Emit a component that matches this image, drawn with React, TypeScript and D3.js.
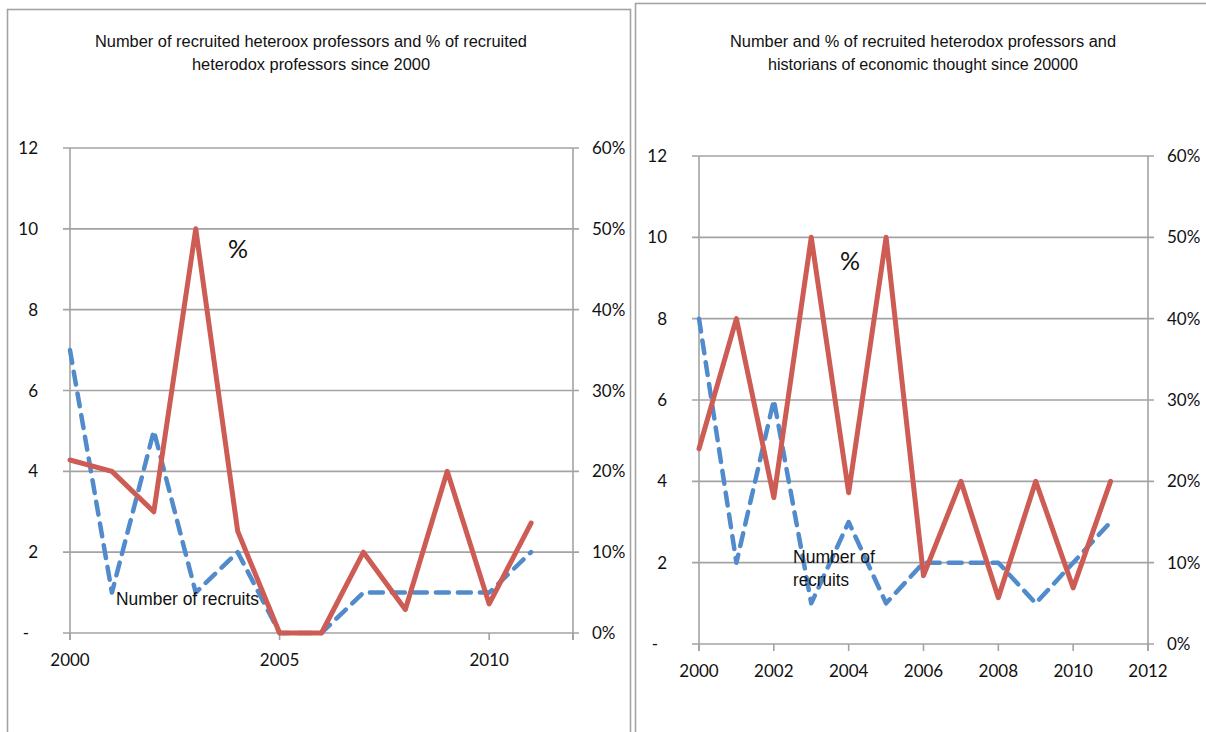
import React from "react";
import * as d3 from "d3";

// ---------- data ----------
const years = [2000, 2001, 2002, 2003, 2004, 2005, 2006, 2007, 2008, 2009, 2010, 2011];

const leftRecruits = [7, 1, 5, 1, 2, 0, 0, 1, 1, 1, 1, 2];
const leftPercent = [0.214, 0.2, 0.15, 0.5, 0.126, 0, 0, 0.1, 0.029, 0.2, 0.036, 0.136];

const rightRecruits = [8, 2, 6, 1, 3, 1, 2, 2, 2, 1, 2, 3];
const rightPercent = [0.24, 0.4, 0.18, 0.5, 0.186, 0.5, 0.084, 0.2, 0.057, 0.2, 0.069, 0.2];

const countTicks = [0, 2, 4, 6, 8, 10, 12];
const pctTicks = [0, 0.1, 0.2, 0.3, 0.4, 0.5, 0.6];
const leftYearTicks = [2000, 2005, 2010];
const rightYearTicks = [2000, 2002, 2004, 2006, 2008, 2010, 2012];

const leftTitle = [
  "Number of recruited heteroox professors and % of recruited",
  "heterodox professors since 2000",
];
const rightTitle = [
  "Number and % of recruited heterodox professors and",
  "historians of economic thought since 20000",
];

// ---------- styles ----------
const GRID = "#a3a3a3";
const RED = "#cd5c55";
const BLUE = "#518bcc";
const TICK_FONT = "Lato, 'Open Sans', sans-serif";
const NARROW = "'Liberation Sans Narrow', 'Liberation Sans', Arial, sans-serif";

type PanelProps = {
  frame: { x: number; y: number; w: number; h: number };
  x0: number;
  x1: number;
  yTop: number;
  yBottom: number;
  counts: number[];
  pcts: number[];
  yearTicks: number[];
  tickMarks: number[];
  title: string[];
  titleCx: number;
  titleLens: number[];
  pctLabel: { x: number; y: number };
  recruitLabel: { x: number; y: number; lines: string[]; lens: number[] };
};

function Panel(p: PanelProps) {
  const x = d3.scaleLinear().domain([2000, 2012]).range([p.x0, p.x1]);
  const y = d3.scaleLinear().domain([0, 12]).range([p.yBottom, p.yTop]);
  const y2 = d3.scaleLinear().domain([0, 0.6]).range([p.yBottom, p.yTop]);

  const countLine = d3
    .line<number>()
    .x((_, i) => x(years[i]))
    .y((d) => y(d));
  const pctLine = d3
    .line<number>()
    .x((_, i) => x(years[i]))
    .y((d) => y2(d));

  const fmtPct = d3.format(".0%");

  return (
    <g>
      <rect
        x={p.frame.x}
        y={p.frame.y}
        width={p.frame.w}
        height={p.frame.h}
        fill="#fff"
        stroke={GRID}
        strokeWidth={1.6}
      />
      {p.title.map((t, i) => (
        <text
          key={i}
          x={p.titleCx}
          y={47 + i * 23}
          textAnchor="middle"
          fontFamily={NARROW}
          fontSize={16}
          fill="#111"
          textLength={p.titleLens[i]}
          lengthAdjust="spacingAndGlyphs"
        >
          {t}
        </text>
      ))}

      {/* gridlines */}
      {countTicks.map((t) => (
        <line
          key={"g" + t}
          x1={p.x0 - 7}
          x2={p.x1 + 6}
          y1={y(t)}
          y2={y(t)}
          stroke={GRID}
          strokeWidth={1.6}
        />
      ))}
      {/* axes */}
      <line x1={p.x0} x2={p.x0} y1={p.yTop} y2={p.yBottom + 7} stroke={GRID} strokeWidth={1.6} />
      <line x1={p.x1} x2={p.x1} y1={p.yTop} y2={p.yBottom + 7} stroke={GRID} strokeWidth={1.6} />
      {p.tickMarks.map((t) => (
        <line
          key={"xt" + t}
          x1={x(t)}
          x2={x(t)}
          y1={p.yBottom}
          y2={p.yBottom + 7}
          stroke={GRID}
          strokeWidth={1.6}
        />
      ))}

      {/* left axis labels */}
      {countTicks.map((t) => (
        <text
          key={"yl" + t}
          x={t === 0 ? p.x0 - 41 : p.x0 - 32}
          y={y(t) + 6}
          textAnchor="end"
          fontFamily={TICK_FONT}
          fontSize={17}
          fill="#111"
        >
          {t === 0 ? "-" : String(t)}
        </text>
      ))}
      {/* right axis labels */}
      {pctTicks.map((t) => (
        <text
          key={"yr" + t}
          x={p.x1 + 19}
          y={y2(t) + 6}
          textAnchor="start"
          fontFamily={TICK_FONT}
          fontSize={17}
          fill="#111"
        >
          {fmtPct(t)}
        </text>
      ))}
      {/* x labels */}
      {p.yearTicks.map((t) => (
        <text
          key={"xl" + t}
          x={x(t)}
          y={p.yBottom + 33}
          textAnchor="middle"
          fontFamily={TICK_FONT}
          fontSize={17}
          fill="#111"
        >
          {t}
        </text>
      ))}

      {/* series */}
      <path
        d={countLine(p.counts) || ""}
        fill="none"
        stroke={BLUE}
        strokeWidth={4.5}
        strokeDasharray="13 9"
        strokeLinecap="round"
        strokeLinejoin="round"
      />
      <path
        d={pctLine(p.pcts) || ""}
        fill="none"
        stroke={RED}
        strokeWidth={5}
        strokeLinecap="round"
        strokeLinejoin="round"
      />

      {/* data labels */}
      <text x={p.pctLabel.x} y={p.pctLabel.y} fontFamily={TICK_FONT} fontSize={25} fill="#111">
        %
      </text>
      {p.recruitLabel.lines.map((l, i) => (
        <text
          key={"rl" + i}
          x={p.recruitLabel.x}
          y={p.recruitLabel.y + i * 23}
          fontFamily={NARROW}
          fontSize={19}
          fill="#111"
          textLength={p.recruitLabel.lens[i]}
          lengthAdjust="spacingAndGlyphs"
        >
          {l}
        </text>
      ))}
    </g>
  );
}

export default function App() {
  return (
    <svg
      width={1206}
      height={732}
      viewBox="0 0 1206 732"
      style={{ position: "absolute", left: 0, top: 0, background: "#fff" }}
    >
      <rect x={0} y={0} width={1206} height={732} fill="#fff" />
      <Panel
        frame={{ x: 7.5, y: 9.5, w: 623, h: 740 }}
        x0={70}
        x1={573}
        yTop={148}
        yBottom={633}
        counts={leftRecruits}
        pcts={leftPercent}
        yearTicks={leftYearTicks}
        tickMarks={[2000, 2005, 2010, 2012]}
        title={leftTitle}
        titleCx={311}
        titleLens={[432, 238]}
        pctLabel={{ x: 228, y: 258 }}
        recruitLabel={{ x: 116, y: 605, lines: ["Number of recruits"], lens: [143] }}
      />
      <Panel
        frame={{ x: 635.5, y: 3.5, w: 600, h: 740 }}
        x0={699}
        x1={1148}
        yTop={156}
        yBottom={644}
        counts={rightRecruits}
        pcts={rightPercent}
        yearTicks={rightYearTicks}
        tickMarks={rightYearTicks}
        title={rightTitle}
        titleCx={923}
        titleLens={[386, 310]}
        pctLabel={{ x: 840, y: 270 }}
        recruitLabel={{ x: 793, y: 563, lines: ["Number of", "recruits"], lens: [82, 56] }}
      />
    </svg>
  );
}
